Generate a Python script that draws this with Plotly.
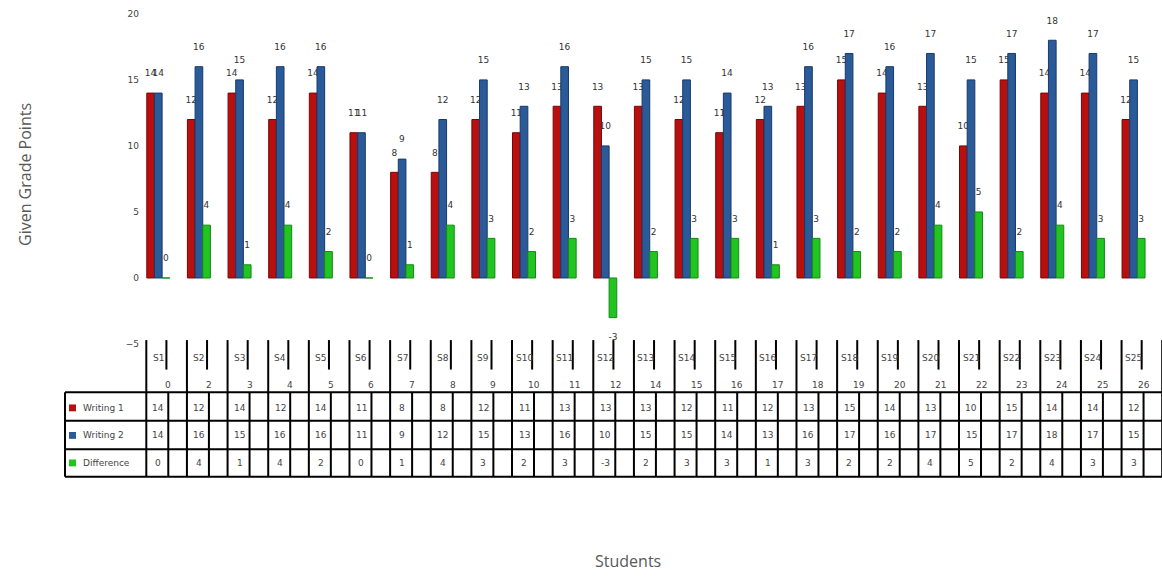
import plotly.graph_objects as go

# ---- data -------------------------------------------------------------
students = ["S1", "S2", "S3", "S4", "S5", "S6", "S7", "S8", "S9", "S10", "S11", "S12", "S13",
            "S14", "S15", "S16", "S17", "S18", "S19", "S20", "S21", "S22", "S23", "S24", "S25"]
sub_labels = ["0", "2", "3", "4", "5", "6", "7", "8", "9", "10", "11", "12", "14",
              "15", "16", "17", "18", "19", "20", "21", "22", "23", "24", "25", "26"]
writing1 = [14, 12, 14, 12, 14, 11, 8, 8, 12, 11, 13, 13, 13, 12, 11, 12, 13, 15, 14, 13, 10, 15, 14, 14, 12]
writing2 = [14, 16, 15, 16, 16, 11, 9, 12, 15, 13, 16, 10, 15, 15, 14, 13, 16, 17, 16, 17, 15, 17, 18, 17, 15]
difference = [0, 4, 1, 4, 2, 0, 1, 4, 3, 2, 3, -3, 2, 3, 3, 1, 3, 2, 2, 4, 5, 2, 4, 3, 3]

series = [
    ("Writing 1", writing1, "#B80F0F", "#7A0505"),
    ("Writing 2", writing2, "#2B5A98", "#173A6A"),
    ("Difference", difference, "#22C422", "#138A13"),
]

# ---- canvas geometry --------------------------------------------------
W, H = 1162, 577
L = 140


def py(y):
    return 1 - y / H


def px(x):
    return (x - L) / (W - L)


idx = list(range(len(students)))
fig = go.Figure()

for name, vals, col, edge in series:
    fig.add_trace(go.Bar(
        x=idx, y=vals, name=name,
        marker=dict(color=col, line=dict(color=edge, width=1)),
        text=[f"{v}<br>\u00a0" if v >= 0 else f"\u00a0<br>{v}" for v in vals],
        textposition="outside", constraintext="none", cliponaxis=False,
        textfont=dict(family="DejaVu Sans", size=9, color="#333333"),
        showlegend=False,
    ))

shapes = []
line = dict(color="black", width=2)
# column boundaries and inner dividers of the data table
for i in range(len(students) + 1):
    shapes.append(dict(type="line", xref="x", yref="paper", x0=i - 0.295, x1=i - 0.295,
                       y0=py(341), y1=py(480), line=line))
for i in idx:
    shapes.append(dict(type="line", xref="x", yref="paper", x0=i + 0.2, x1=i + 0.2,
                       y0=py(341), y1=py(371), line=line))
    shapes.append(dict(type="line", xref="x", yref="paper", x0=i + 0.246, x1=i + 0.246,
                       y0=py(394), y1=py(480), line=line))
# row lines and legend column
for yy in (394, 423, 452, 480):
    shapes.append(dict(type="line", xref="paper", yref="paper", x0=px(65), x1=px(1162),
                       y0=py(yy), y1=py(yy), line=line))
shapes.append(dict(type="line", xref="paper", yref="paper", x0=px(65), x1=px(65),
                   y0=py(394), y1=py(480), line=line))

annotations = []
tf = dict(family="DejaVu Sans", size=9, color="#444444")
mid = dict(showarrow=False, xanchor="center", yanchor="middle")
row_y = [410, 438, 466]
for (name, vals, col, edge), yy in zip(series, row_y):
    shapes.append(dict(type="rect", xref="paper", yref="paper", x0=px(69), x1=px(76),
                       y0=py(yy + 3.5), y1=py(yy - 3.5), fillcolor=col, line=dict(width=0)))
    annotations.append(dict(xref="paper", yref="paper", x=px(81), y=py(yy), text=name,
                            showarrow=False, xanchor="left", yanchor="middle", font=tf))
    for i, v in zip(idx, vals):
        annotations.append(dict(xref="x", yref="paper", x=i, y=py(yy), text=str(v),
                                font=tf, **mid))
for i, s, n in zip(idx, students, sub_labels):
    annotations.append(dict(xref="x", yref="paper", x=i, y=py(359), text=s, font=tf, **mid))
    annotations.append(dict(xref="x", yref="paper", x=i + 0.246, y=py(387), text=n,
                            font=tf, **mid))

annotations.append(dict(xref="paper", yref="paper", x=px(25), y=py(173), text="Given Grade Points",
                        textangle=-90, font=dict(family="Open Sans", size=16, color="#595959"),
                        **mid))
annotations.append(dict(xref="paper", yref="paper", x=px(628), y=py(566), text="Students",
                        font=dict(family="Open Sans", size=16, color="#595959"), **mid))

fig.update_layout(
    width=W, height=H,
    margin=dict(l=L, r=0, t=0, b=0),
    paper_bgcolor="white", plot_bgcolor="white",
    barmode="group", bargap=0.434, bargroupgap=0,
    xaxis=dict(range=[-0.45, 24.7], showticklabels=False, showgrid=False,
               zeroline=False, showline=False, ticks=""),
    yaxis=dict(range=[-5, 20], domain=[py(345), py(9)], tickvals=[-5, 0, 5, 10, 15, 20],
               showgrid=False, zeroline=False, showline=False, ticks="",
               tickfont=dict(family="DejaVu Sans", size=9, color="#444444")),
    shapes=shapes, annotations=annotations,
)

fig.write_html("out.html")
